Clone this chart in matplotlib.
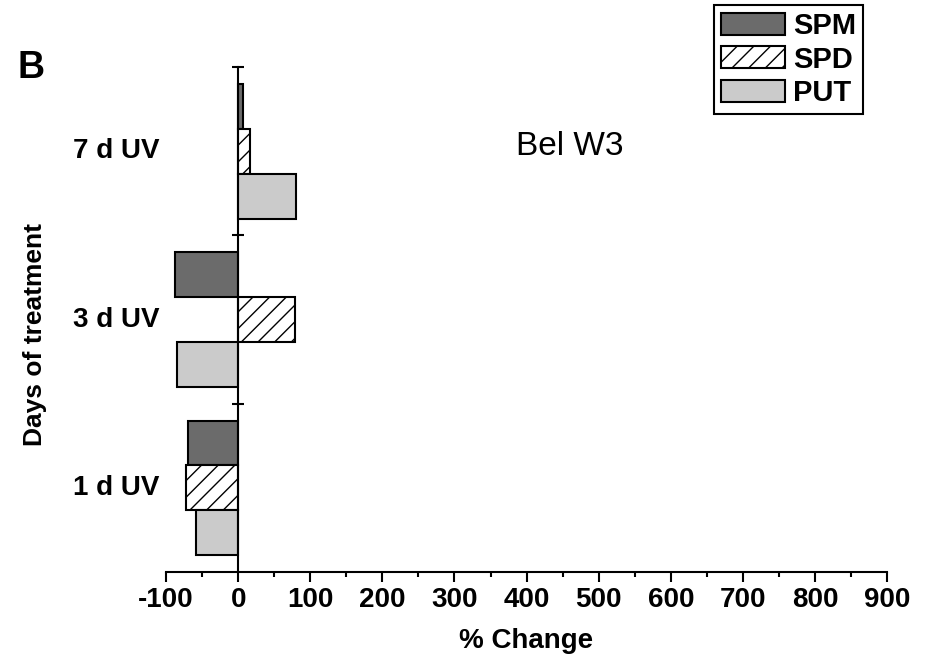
import matplotlib.pyplot as plt
import matplotlib.transforms as mtransforms
import numpy as np

plt.rcParams['font.family'] = ['Liberation Sans', 'DejaVu Sans']
plt.rcParams['hatch.linewidth'] = 1.0
plt.rcParams['axes.unicode_minus'] = False

# Percent change of each polyamine per treatment day
days = ['1 d UV', '3 d UV', '7 d UV']
spm = [-69, -88, 7]
spd = [-72, 79, 17]
put = [-59, -85, 80]

series = [
    ('SPM', spm, '#6b6b6b', None),
    ('SPD', spd, 'white', '//'),
    ('PUT', put, '#cbcbcb', None),
]

fig = plt.figure(figsize=(9.25, 6.59), dpi=100)
ax = fig.add_axes([0.1795, 0.132, 0.7795, 0.766])

pos = np.arange(len(days))
h = 0.8 / 3
offsets = [h, 0, -h]
for (name, vals, col, hatch), off in zip(series, offsets):
    ax.barh(pos + off, vals, height=h, color=col, hatch=hatch,
            edgecolor='black', linewidth=1.5, label=name)

ax.set_xlim(-100, 900)
ax.set_ylim(-0.5, 2.5)

# x axis: bottom spine only, major ticks every 100 and minor every 50
ax.set_xticks(np.arange(-100, 901, 100))
ax.set_xticks(np.arange(-50, 900, 100), minor=True)
ax.tick_params(axis='x', which='major', length=7.2, width=1.5, direction='out',
               labelsize=20, pad=3.5)
ax.tick_params(axis='x', which='minor', length=3.6, width=1.5, direction='out')
for lbl in ax.get_xticklabels():
    lbl.set_fontweight('bold')

# vertical axis drawn at zero, ticks mark the group boundaries
ax.spines['left'].set_position(('data', 0))
ax.spines['left'].set_linewidth(1.5)
ax.spines['bottom'].set_linewidth(1.5)
ax.spines['top'].set_visible(False)
ax.spines['right'].set_visible(False)
ax.set_yticks([0.5, 1.5, 2.5])
ax.set_yticklabels([])
ax.tick_params(axis='y', length=8.6, width=1.5, direction='inout')

trans = mtransforms.blended_transform_factory(ax.transAxes, ax.transData)
for p, d in zip(pos, days):
    ax.text(-0.009, p, d, transform=trans, ha='right', va='center',
            fontsize=20, fontweight='bold')

ax.set_xlabel('% Change', fontsize=20, fontweight='bold', labelpad=11)
fig.text(0.038, 0.492, 'Days of treatment', rotation=90, ha='center', va='center',
         fontsize=19, fontweight='bold')
fig.text(0.019, 0.897, 'B', fontsize=27, fontweight='bold', ha='left', va='center')
ax.text(460, 2.03, 'Bel W3', fontsize=24, ha='center', va='center')

leg = ax.legend(loc='upper right', bbox_to_anchor=(0.933, 0.992),
                bbox_transform=fig.transFigure, fancybox=False, framealpha=1,
                edgecolor='black', handlelength=2.2, handleheight=0.78,
                handletextpad=0.3, labelspacing=0.2, borderpad=0.22,
                borderaxespad=0, prop={'size': 21, 'weight': 'bold'})
leg.get_frame().set_linewidth(1.5)

plt.savefig('out.png', dpi=100)
plt.close()
